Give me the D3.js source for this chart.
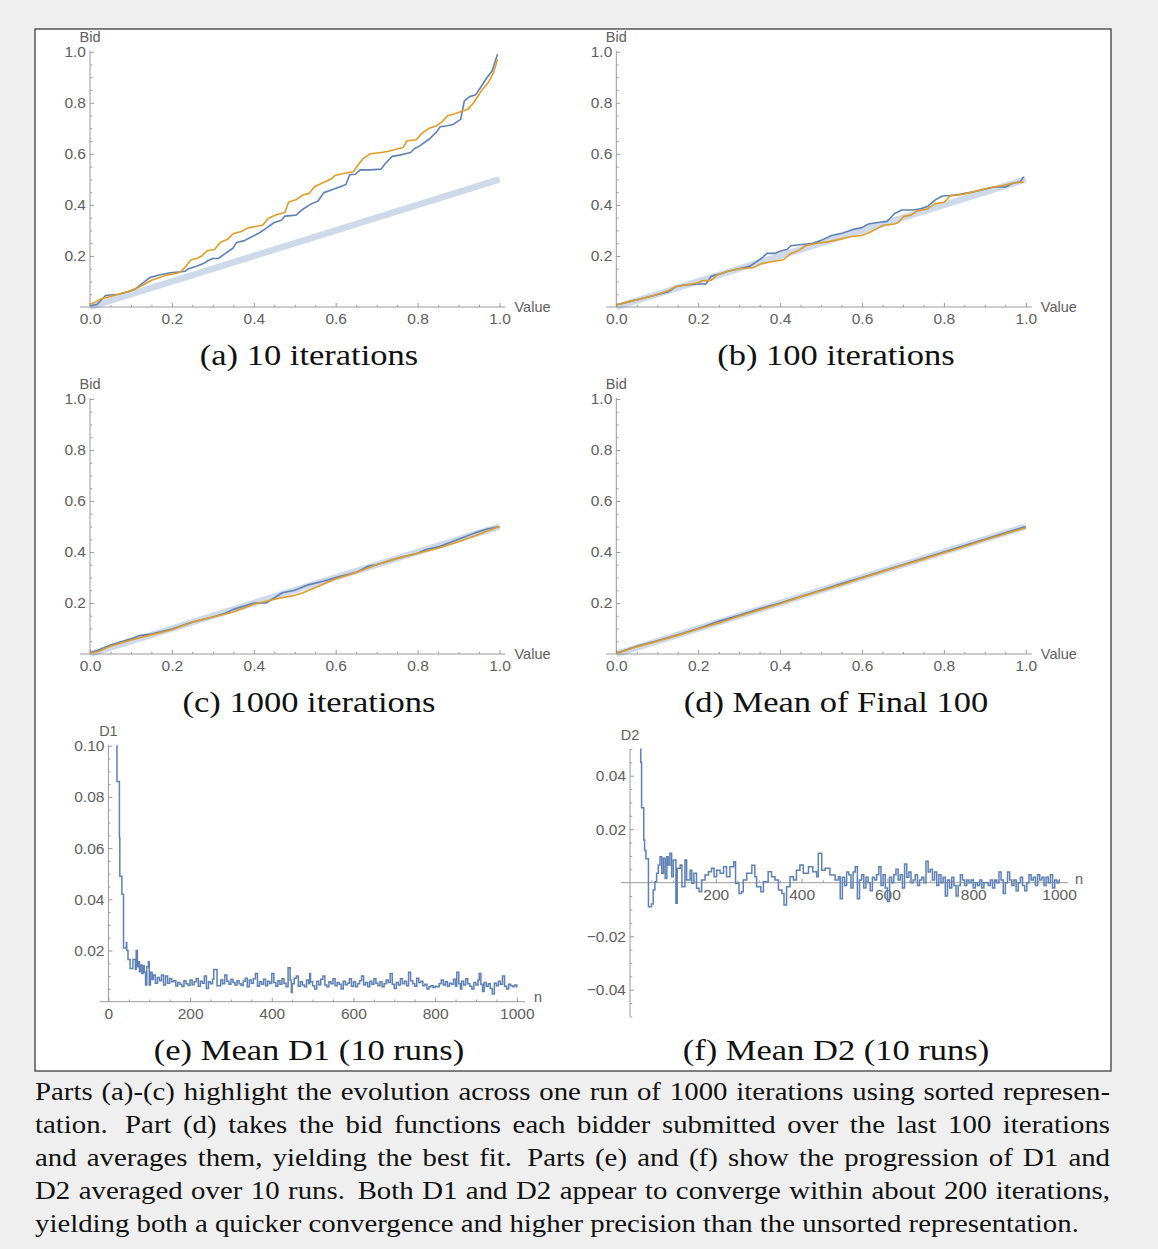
<!doctype html>
<html>
<head>
<meta charset="utf-8"/>
<title>Sorted representation: bid functions, D1 and D2</title>
<script src="https://d3js.org/d3.v7.min.js"></script>
<style>
body { margin:0; background:#efefef; }
svg { display:block; }
</style>
</head>
<body>
<script>
// ---------------- data ----------------
// bid functions: [value, bid]
var bidA_blue = [[0,0.005],[0.017,0.01],[0.038,0.045],[0.07,0.05],[0.092,0.06],[0.11,0.07],[0.128,0.093],[0.146,0.115],[0.169,0.125],[0.196,0.134],
  [0.223,0.138],[0.232,0.14],[0.241,0.15],[0.26,0.16],[0.277,0.17],[0.286,0.18],[0.3,0.19],[0.313,0.19],[0.331,0.21],[0.349,0.23],
  [0.358,0.253],[0.377,0.26],[0.395,0.275],[0.413,0.29],[0.43,0.308],[0.449,0.33],[0.467,0.34],[0.476,0.356],[0.503,0.36],[0.52,0.383],
  [0.539,0.403],[0.557,0.415],[0.571,0.448],[0.593,0.46],[0.611,0.471],[0.625,0.48],[0.634,0.518],[0.648,0.52],[0.66,0.537],[0.684,0.537],
  [0.711,0.54],[0.72,0.56],[0.738,0.59],[0.756,0.595],[0.77,0.6],[0.783,0.605],[0.792,0.62],[0.806,0.632],[0.828,0.657],[0.847,0.687],
  [0.855,0.706],[0.873,0.71],[0.887,0.715],[0.905,0.735],[0.914,0.807],[0.927,0.824],[0.941,0.83],[0.955,0.863],[0.968,0.895],[0.982,0.925],[0.995,0.99]];
var bidA_orange = [[0,0.01],[0.014,0.02],[0.024,0.03],[0.047,0.04],[0.07,0.05],[0.092,0.06],[0.11,0.07],[0.128,0.085],[0.15,0.105],[0.169,0.115],
  [0.187,0.125],[0.205,0.13],[0.219,0.135],[0.232,0.155],[0.246,0.184],[0.26,0.19],[0.273,0.2],[0.286,0.22],[0.304,0.225],[0.318,0.253],
  [0.336,0.265],[0.35,0.288],[0.368,0.295],[0.386,0.31],[0.404,0.315],[0.422,0.321],[0.435,0.347],[0.453,0.36],[0.476,0.37],[0.485,0.411],
  [0.503,0.42],[0.52,0.439],[0.535,0.445],[0.548,0.471],[0.566,0.485],[0.589,0.501],[0.598,0.515],[0.616,0.522],[0.643,0.53],[0.652,0.55],
  [0.666,0.58],[0.684,0.6],[0.711,0.605],[0.729,0.61],[0.752,0.62],[0.765,0.625],[0.774,0.651],[0.797,0.655],[0.81,0.68],[0.828,0.7],
  [0.847,0.71],[0.86,0.726],[0.873,0.749],[0.887,0.755],[0.905,0.765],[0.923,0.775],[0.937,0.8],[0.955,0.845],[0.973,0.88],[0.986,0.92],[0.995,0.97]];

var bidB_blue = [[0,0.008],[0.029,0.02],[0.056,0.03],[0.092,0.045],[0.128,0.06],[0.146,0.08],[0.164,0.085],[0.2,0.09],[0.219,0.09],[0.232,0.121],
  [0.255,0.13],[0.273,0.14],[0.3,0.15],[0.327,0.16],[0.34,0.175],[0.354,0.19],[0.368,0.21],[0.386,0.21],[0.404,0.22],[0.417,0.225],
  [0.426,0.24],[0.453,0.245],[0.48,0.25],[0.499,0.26],[0.526,0.28],[0.553,0.29],[0.58,0.305],[0.598,0.31],[0.616,0.325],[0.634,0.33],
  [0.661,0.335],[0.679,0.365],[0.697,0.38],[0.724,0.38],[0.743,0.385],[0.761,0.395],[0.779,0.42],[0.797,0.435],[0.815,0.437],[0.833,0.44],
  [0.851,0.445],[0.869,0.45],[0.896,0.46],[0.923,0.47],[0.95,0.47],[0.968,0.485],[0.986,0.49],[0.995,0.51]];
var bidB_orange = [[0,0.008],[0.029,0.02],[0.056,0.03],[0.092,0.045],[0.128,0.065],[0.146,0.08],[0.183,0.09],[0.2,0.095],[0.209,0.103],[0.232,0.105],
  [0.246,0.125],[0.273,0.14],[0.3,0.15],[0.336,0.155],[0.354,0.17],[0.372,0.175],[0.39,0.18],[0.408,0.185],[0.426,0.21],[0.444,0.22],
  [0.462,0.24],[0.49,0.25],[0.517,0.255],[0.544,0.265],[0.571,0.275],[0.598,0.28],[0.616,0.29],[0.634,0.305],[0.652,0.32],[0.679,0.325],
  [0.688,0.33],[0.702,0.355],[0.72,0.36],[0.733,0.375],[0.761,0.385],[0.779,0.405],[0.801,0.41],[0.815,0.435],[0.842,0.44],[0.869,0.45],
  [0.905,0.465],[0.941,0.475],[0.968,0.485],[0.995,0.49]];

var bidC_blue = [[0,0.005],[0.02,0.015],[0.05,0.035],[0.08,0.05],[0.1,0.06],[0.12,0.072],[0.15,0.078],[0.2,0.098],[0.25,0.125],[0.3,0.145],
  [0.33,0.16],[0.35,0.175],[0.4,0.2],[0.43,0.2],[0.47,0.24],[0.5,0.25],[0.53,0.27],[0.57,0.285],[0.6,0.3],[0.65,0.32],
  [0.68,0.345],[0.7,0.35],[0.75,0.375],[0.8,0.395],[0.82,0.41],[0.85,0.42],[0.9,0.45],[0.94,0.475],[0.97,0.49],[1.0,0.5]];
var bidC_orange = [[0,0.003],[0.02,0.01],[0.05,0.03],[0.08,0.045],[0.1,0.055],[0.15,0.075],[0.2,0.095],[0.25,0.125],[0.3,0.145],[0.35,0.165],
  [0.4,0.195],[0.45,0.215],[0.5,0.23],[0.52,0.24],[0.55,0.26],[0.6,0.295],[0.65,0.32],[0.7,0.35],[0.75,0.375],[0.8,0.395],
  [0.85,0.415],[0.9,0.44],[0.95,0.47],[1.0,0.5]];

var bidD_blue = [[0,0.003],[0.05,0.03],[0.1,0.052],[0.15,0.075],[0.2,0.1],[0.25,0.128],[0.3,0.152],[0.35,0.177],[0.4,0.2],[0.45,0.225],
  [0.5,0.25],[0.55,0.276],[0.6,0.3],[0.65,0.325],[0.7,0.35],[0.75,0.375],[0.8,0.4],[0.85,0.425],[0.9,0.45],[0.95,0.475],[1.0,0.5]];
var bidD_orange = [[0,0.002],[0.05,0.028],[0.1,0.05],[0.15,0.073],[0.2,0.098],[0.25,0.122],[0.3,0.148],[0.35,0.173],[0.4,0.197],[0.45,0.224],
  [0.5,0.248],[0.55,0.272],[0.6,0.298],[0.65,0.323],[0.7,0.348],[0.75,0.372],[0.8,0.397],[0.85,0.422],[0.9,0.447],[0.95,0.472],[1.0,0.495]];

// equilibrium bid b(v) = v/2, drawn as the thick pale band
var equilibrium = [[0,0],[1,0.5]];

// mean D1 over 10 runs: [n, D1]
var d1Series = [[20,0.100],[21,0.086],[27,0.064],[28,0.049],[33,0.042],[37,0.021],[42,0.021],[44,0.023],[45,0.020],[48,0.0165],
  [53,0.013],[59,0.013],[60,0.0165],[64,0.0165],[66,0.0126],[68,0.020],[71,0.0137],[73,0.0156],[76,0.0117],[78,0.0143],
  [82,0.011],[85,0.014],[88,0.0115],[91,0.0065],[94,0.0137],[98,0.0156],[100,0.0065],[103,0.0115],[107,0.0087],
  [110,0.0104],[115,0.0072],[120,0.0095],[125,0.0082],[130,0.0104],[135,0.0065],[140,0.0100],[145,0.0072],[150,0.0091],[155,0.0078],
  [160,0.0082],[165,0.0061],[170,0.0075],[175,0.0068],[180,0.0059],[185,0.0082],[190,0.0070],[195,0.0063],[200,0.0085],[205,0.0066],
  [210,0.0078],[215,0.0091],[220,0.0060],[225,0.0080],[230,0.0072],[235,0.0100],[240,0.0052],[245,0.0078],[250,0.0070],[255,0.0088],
  [258,0.0126],[266,0.0062],[275,0.0085],[280,0.0070],[285,0.0104],[290,0.0080],[295,0.0068],[300,0.0088],[305,0.0075],[310,0.0065],
  [315,0.0082],[320,0.0070],[325,0.0063],[330,0.0080],[335,0.0092],[340,0.0058],[345,0.0085],[350,0.0072],[355,0.0090],[360,0.0110],
  [365,0.0060],[370,0.0078],[375,0.0068],[380,0.0088],[385,0.0062],[390,0.0080],[395,0.0071],[400,0.0110],[405,0.0075],[410,0.0060],
  [415,0.0082],[420,0.0068],[425,0.0090],[430,0.0072],[435,0.0058],[440,0.0133],[445,0.0085],[448,0.0036],[450,0.0070],[455,0.0092],
  [460,0.0100],[465,0.0060],[470,0.0078],[475,0.0065],[480,0.0058],[485,0.0085],[490,0.0070],[493,0.0110],[495,0.0078],[500,0.0062],
  [505,0.0050],[510,0.0080],[515,0.0066],[520,0.0088],[525,0.0100],[530,0.0065],[535,0.0058],[540,0.0078],[545,0.0070],[550,0.0090],
  [555,0.0062],[560,0.0075],[565,0.0068],[570,0.0050],[575,0.0080],[580,0.0066],[585,0.0072],[590,0.0090],[595,0.0060],[600,0.0078],
  [605,0.0058],[610,0.0070],[615,0.0082],[620,0.0100],[625,0.0065],[630,0.0075],[635,0.0058],[640,0.0080],[645,0.0068],[650,0.0090],
  [655,0.0072],[660,0.0062],[665,0.0078],[670,0.0058],[675,0.0070],[680,0.0085],[685,0.0075],[690,0.0110],[695,0.0068],[700,0.0052],
  [705,0.0075],[710,0.0065],[715,0.0090],[720,0.0070],[725,0.0080],[730,0.0062],[735,0.0115],[740,0.0082],[745,0.0070],[750,0.0060],
  [755,0.0092],[760,0.0075],[765,0.0080],[770,0.0062],[775,0.0068],[780,0.0050],[785,0.0058],[790,0.0062],[795,0.0055],[800,0.0060],
  [805,0.0058],[810,0.0070],[815,0.0085],[820,0.0065],[825,0.0078],[830,0.0060],[835,0.0072],[840,0.0068],[845,0.0088],[850,0.0060],
  [853,0.0115],[858,0.0070],[862,0.0050],[865,0.0080],[870,0.0065],[875,0.0090],[880,0.0070],[885,0.0060],[890,0.0050],[895,0.0075],
  [900,0.0065],[905,0.0085],[908,0.0110],[912,0.0068],[916,0.0040],[920,0.0075],[925,0.0060],[930,0.0070],[935,0.0052],[940,0.0030],
  [945,0.0072],[950,0.0062],[955,0.0080],[960,0.0068],[965,0.0100],[970,0.0060],[975,0.0050],[980,0.0068],[985,0.0062],[990,0.0058],
  [995,0.0065],[1000,0.0055]];

// mean D2 over 10 runs: [n, D2]
var d2Series = [[24,0.050],[25,0.045],[27,0.028],[32,0.016],[34,0.012],[37,0.009],[43,-0.009],[50,-0.008],[54,-0.0027],[58,0.0004],
  [62,0.0035],[66,0.0066],[70,0.0097],[74,0.0035],[78,0.0091],[82,0.0016],[86,0.0097],[89,0.0066],[93,0.011],[97,0.0022],
  [101,0.0085],[107,-0.0077],[110,0.0054],[117,0.0066],[121,-0.0015],[128,0.0085],[132,0.001],[140,0.0047],[144,-0.0002],[149,0.0035],
  [155,-0.0021],[161,-0.0034],[167,0.001],[175,0.0029],[183,0.0041],[190,0.0054],[196,0.0022],[202,0.0047],[210,0.0035],[218,0.006],
  [225,0.0022],[233,0.006],[242,0.0078],[246,-0.0002],[254,-0.004],[260,-0.0034],[264,0.001],[272,0.0035],[284,0.0065],[291,0.0022],
  [295,-0.0015],[305,-0.0034],[311,0.0004],[322,0.0041],[330,0.0022],[338,0.001],[346,-0.0027],[354,-0.004],[359,-0.0083],[365,-0.0015],
  [373,0.0022],[381,0.001],[388,0.0047],[396,0.0066],[404,0.0035],[416,0.006],[426,0.0041],[435,0.0022],[439,0.011],[447,0.0047],
  [455,0.0054],[466,0.0029],[478,0.001],[486,0.0022],[490,-0.006],[495,0.002],[500,-0.001],[505,0.004],[510,0.003],[515,-0.002],
  [520,0.004],[525,0.006],[530,-0.006],[535,0.001],[540,0.003],[545,-0.002],[550,0.002],[555,0.000],[560,-0.003],[565,0.002],
  [570,0.001],[575,0.003],[580,0.006],[585,-0.001],[590,0.003],[595,-0.002],[600,-0.007],[605,0.002],[610,0.000],[615,0.003],
  [620,0.005],[625,0.001],[630,0.003],[635,-0.002],[640,0.007],[645,0.002],[650,0.004],[655,0.000],[660,0.001],[665,0.003],
  [670,-0.001],[675,0.001],[680,0.002],[685,0.000],[690,0.008],[695,0.004],[700,0.005],[705,0.001],[710,0.004],[715,-0.001],
  [720,0.003],[725,0.000],[730,0.002],[735,-0.005],[740,0.001],[745,-0.002],[750,0.002],[755,-0.001],[760,-0.005],[765,-0.001],
  [770,0.003],[775,0.001],[780,-0.001],[785,0.001],[790,0.000],[795,0.001],[800,-0.002],[805,0.000],[810,-0.001],[815,0.001],
  [820,-0.002],[825,0.000],[830,0.000],[835,-0.001],[840,0.001],[845,-0.002],[850,0.001],[855,0.000],[860,0.004],[865,0.001],
  [870,-0.004],[875,0.000],[880,0.004],[885,0.001],[890,-0.001],[895,0.001],[900,-0.003],[905,0.000],[910,0.002],[915,-0.001],
  [920,-0.003],[925,0.000],[930,0.003],[935,0.001],[940,0.002],[945,-0.001],[950,0.003],[955,0.001],[960,0.002],[965,-0.001],
  [970,0.002],[975,0.000],[980,0.003],[985,-0.002],[990,0.001],[995,0.000],[1000,0.001]];

// ticks and texts
var valueTicks = [0, 0.2, 0.4, 0.6, 0.8, 1.0];
var bidTicks = [0.2, 0.4, 0.6, 0.8, 1.0];
var nTicksE = [0, 200, 400, 600, 800, 1000];
var nTicksF = [200, 400, 600, 800, 1000];
var d1Ticks = [0.02, 0.04, 0.06, 0.08, 0.10];
var d2Ticks = [-0.04, -0.02, 0.02, 0.04];
var captions = ["(a) 10 iterations", "(b) 100 iterations", "(c) 1000 iterations",
                "(d) Mean of Final 100", "(e) Mean D1 (10 runs)", "(f) Mean D2 (10 runs)"];
var paragraph = [
  "Parts (a)-(c) highlight the evolution across one run of 1000 iterations using sorted represen-",
  "tation.  Part (d) takes the bid functions each bidder submitted over the last 100 iterations",
  "and averages them, yielding the best fit.  Parts (e) and (f) show the progression of D1 and",
  "D2 averaged over 10 runs.  Both D1 and D2 appear to converge within about 200 iterations,",
  "yielding both a quicker convergence and higher precision than the unsorted representation."
];

// ---------------- drawing ----------------
var blue = "#5e81b5", orange = "#e19c24";
var axisColor = "#9a9a9a", labelColor = "#5e5e5e";
var sans = "'Liberation Sans', Arial, sans-serif";
var serif = "'Liberation Serif', 'Times New Roman', serif";

var svg = d3.select("body").append("svg")
    .attr("width", 1158)
    .attr("height", 1249);

svg.append("rect")
    .attr("x", 35).attr("y", 29)
    .attr("width", 1076).attr("height", 1042)
    .attr("fill", "white")
    .attr("stroke", "#3c3c3c")
    .attr("stroke-width", 1.3);

function minorOf(lo, hi, step, majors) {
  return d3.range(Math.round((hi - lo) / step) + 1)
    .map(function(i){ return +(lo + i * step).toFixed(6); })
    .filter(function(v){ return majors.every(function(m){ return Math.abs(m - v) > 1e-9; }); });
}

function styleAxis(g) {
  g.select(".domain").remove();
  g.attr("color", axisColor)
   .attr("font-family", sans)
   .attr("font-size", 15.5);
  g.selectAll("text").attr("fill", labelColor);
}

function axes(g, x, y, o) {
  var y0 = y(o.xAt), x0 = x(o.yAt);
  // axis lines
  g.append("line").attr("x1", o.xExt[0]).attr("x2", o.xExt[1]).attr("y1", y0).attr("y2", y0)
    .attr("stroke", axisColor);
  g.append("line").attr("x1", x0).attr("x2", x0).attr("y1", o.yExt[0]).attr("y2", o.yExt[1])
    .attr("stroke", axisColor);

  g.append("g").attr("transform", "translate(0," + y0 + ")")
    .call(d3.axisBottom(x).tickValues(o.xMajor).tickFormat(o.xFmt)
      .tickSizeInner(-4).tickSizeOuter(0).tickPadding(6))
    .call(styleAxis);
  g.append("g").attr("transform", "translate(0," + y0 + ")")
    .call(d3.axisBottom(x).tickValues(o.xMinor).tickFormat("")
      .tickSizeInner(-2.2).tickSizeOuter(0))
    .call(styleAxis);
  g.append("g").attr("transform", "translate(" + x0 + ",0)")
    .call(d3.axisLeft(y).tickValues(o.yMajor).tickFormat(o.yFmt)
      .tickSizeInner(-4).tickSizeOuter(0).tickPadding(4))
    .call(styleAxis);
  g.append("g").attr("transform", "translate(" + x0 + ",0)")
    .call(d3.axisLeft(y).tickValues(o.yMinor).tickFormat("")
      .tickSizeInner(-2.2).tickSizeOuter(0))
    .call(styleAxis);

  g.append("text").attr("x", o.xExt[1] + o.xLabelGap).attr("y", y0 + o.xLabelDy)
    .attr("dy", "0.32em")
    .attr("font-family", sans).attr("font-size", 14.5).attr("fill", labelColor)
    .text(o.xLabel);
  g.append("text").attr("x", x0).attr("y", Math.min(o.yExt[0], o.yExt[1]) - 9)
    .attr("text-anchor", "middle")
    .attr("font-family", sans).attr("font-size", 14.5).attr("fill", labelColor)
    .text(o.yLabel);
}

var fmt1 = d3.format(".1f"), fmt2 = d3.format(".2f"), fmtN = d3.format("d");

function bidPanel(left, right, bottom, top, blueData, orangeData) {
  var g = svg.append("g");
  var x = d3.scaleLinear().domain([0, 1]).range([left, right]);
  var y = d3.scaleLinear().domain([0, 1]).range([bottom, top]);
  axes(g, x, y, {
    xAt: 0, yAt: 0,
    xExt: [left - 10, right + 6], yExt: [bottom, top - 1],
    xMajor: valueTicks, xMinor: minorOf(0, 1, 0.05, valueTicks), xFmt: fmt1,
    yMajor: bidTicks, yMinor: minorOf(0, 1, 0.05, bidTicks.concat([0])), yFmt: fmt1,
    xLabel: "Value", xLabelGap: 9, xLabelDy: 0, yLabel: "Bid"
  });
  var line = d3.line().x(function(d){ return x(d[0]); }).y(function(d){ return y(d[1]); });
  g.append("path").datum(equilibrium).attr("d", line)
    .attr("fill", "none").attr("stroke", blue).attr("stroke-opacity", 0.3)
    .attr("stroke-width", 6.5);
  g.append("path").datum(blueData).attr("d", line)
    .attr("fill", "none").attr("stroke", blue).attr("stroke-width", 1.6)
    .attr("stroke-linejoin", "round");
  g.append("path").datum(orangeData).attr("d", line)
    .attr("fill", "none").attr("stroke", orange).attr("stroke-width", 1.6)
    .attr("stroke-linejoin", "round");
}

bidPanel(90, 499.5, 307, 51.7, bidA_blue, bidA_orange);
bidPanel(616.3, 1025.8, 307, 51.7, bidB_blue, bidB_orange);
bidPanel(90, 499.5, 654, 399, bidC_blue, bidC_orange);
bidPanel(616.3, 1025.8, 654, 399, bidD_blue, bidD_orange);

// (e) mean D1
(function() {
  var g = svg.append("g");
  var x = d3.scaleLinear().domain([0, 1000]).range([108.4, 516.8]);
  var y = d3.scaleLinear().domain([0, 0.1]).range([1001.7, 745.7]);
  axes(g, x, y, {
    xAt: 0, yAt: 0,
    xExt: [100, 525], yExt: [1001.7, 744.7],
    xMajor: nTicksE, xMinor: minorOf(0, 1000, 50, nTicksE), xFmt: fmtN,
    yMajor: d1Ticks, yMinor: minorOf(0, 0.1, 0.005, d1Ticks.concat([0])), yFmt: fmt2,
    xLabel: "n", xLabelGap: 9, xLabelDy: -4, yLabel: "D1"
  });
  var line = d3.line().curve(d3.curveStepAfter)
    .x(function(d){ return x(d[0]); }).y(function(d){ return y(d[1]); });
  g.append("path").datum(d1Series).attr("d", line)
    .attr("fill", "none").attr("stroke", blue).attr("stroke-width", 1.5);
})();

// (f) mean D2
(function() {
  var g = svg.append("g");
  var x = d3.scaleLinear().domain([0, 1000]).range([630, 1059]);
  var y = d3.scaleLinear().domain([-0.05, 0.05]).range([1016.45, 748.95]);
  axes(g, x, y, {
    xAt: 0, yAt: 0,
    xExt: [621, 1068], yExt: [1016.45, 748.95],
    xMajor: nTicksF, xMinor: minorOf(0, 1000, 50, nTicksF.concat([0])), xFmt: fmtN,
    yMajor: d2Ticks, yMinor: minorOf(-0.05, 0.05, 0.005, d2Ticks.concat([0])), yFmt: fmt2,
    xLabel: "n", xLabelGap: 7, xLabelDy: -3, yLabel: "D2"
  });
  var line = d3.line().curve(d3.curveStepAfter)
    .x(function(d){ return x(d[0]); }).y(function(d){ return y(d[1]); });
  g.append("path").datum(d2Series).attr("d", line)
    .attr("fill", "none").attr("stroke", blue).attr("stroke-width", 1.5);
})();

// sub-captions
var capX = [309, 836], capY = [365, 711.7, 1060];
svg.selectAll("text.caption")
  .data(captions)
  .enter().append("text")
  .attr("class", "caption")
  .attr("transform", function(d, i){
    return "translate(" + capX[i % 2] + "," + capY[Math.floor(i / 2)] + ") scale(1.19,1)";
  })
  .attr("text-anchor", "middle")
  .attr("font-family", serif)
  .attr("font-size", 29)
  .attr("fill", "#111")
  .text(function(d){ return d; });

// justified paragraph below the figure
var paraSize = 25.5, paraSx = 1.13, paraLeft = 35, paraWidth = 1075;
paragraph.forEach(function(str, li) {
  var toks = str.split(" "), words = [], gapW = [], pending = 1;
  toks.forEach(function(t) {
    if (t === "") { pending += 0.5; return; }
    if (words.length) gapW.push(pending);
    words.push(t);
    pending = 1;
  });
  var g = svg.append("g")
    .attr("transform", "translate(" + paraLeft + "," + (1100 + li * 33) + ") scale(" + paraSx + ",1)")
    .attr("font-family", serif).attr("font-size", paraSize).attr("fill", "#111");
  var t = g.selectAll("text").data(words).enter().append("text").text(function(d){ return d; });
  var widths = t.nodes().map(function(n){ return n.getComputedTextLength(); });
  var avail = paraWidth / paraSx;
  var gap = (li < paragraph.length - 1)
    ? (avail - d3.sum(widths)) / d3.sum(gapW)
    : 0.25 * paraSize;
  var pos = 0, xs = [];
  widths.forEach(function(w, i) { xs.push(pos); pos += w + gap * (gapW[i] || 0); });
  t.attr("x", function(d, i){ return xs[i]; });
});
</script>
</body>
</html>
